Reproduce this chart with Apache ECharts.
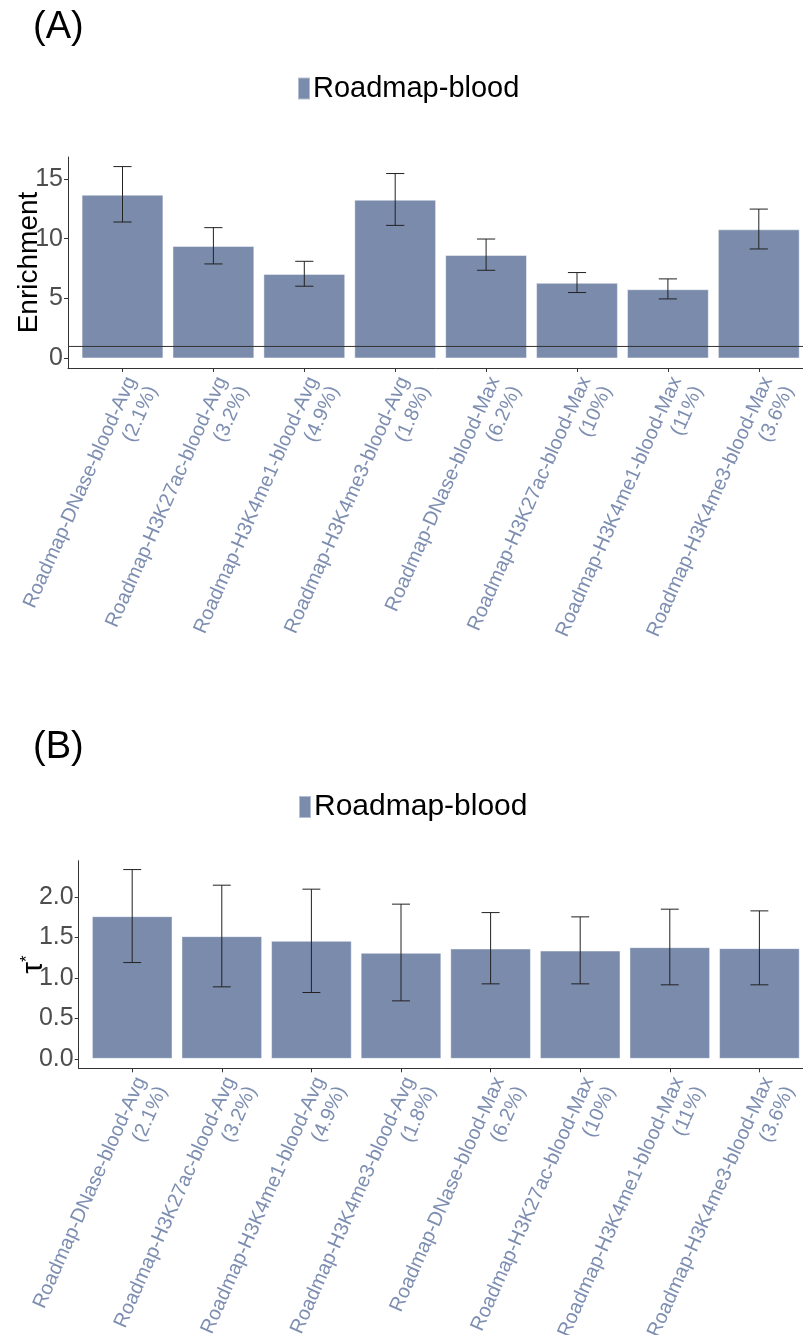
<!DOCTYPE html>
<html>
<head>
<meta charset="utf-8">
<script src="https://cdn.jsdelivr.net/npm/echarts@6/dist/echarts.min.js"></script>
<style>
  html, body { margin: 0; padding: 0; background: #fff; }
  #chart { width: 803px; height: 1335px; }
</style>
</head>
<body>
<div id="chart"></div>
<script>
// annotations (tick labels on x)
const annotations = [
  'Roadmap-DNase-blood-Avg', 'Roadmap-H3K27ac-blood-Avg', 'Roadmap-H3K4me1-blood-Avg', 'Roadmap-H3K4me3-blood-Avg',
  'Roadmap-DNase-blood-Max', 'Roadmap-H3K27ac-blood-Max', 'Roadmap-H3K4me1-blood-Max', 'Roadmap-H3K4me3-blood-Max'
]
const sizes = ['2.1%', '3.2%', '4.9%', '1.8%', '6.2%', '10%', '11%', '3.6%']
const seriesName = 'Roadmap-blood'

// (A) enrichment
const enrichment = [13.67, 9.39, 7.06, 13.25, 8.64, 6.31, 5.78, 10.78]
const enrichmentLow = [11.39, 7.89, 6.03, 11.11, 7.36, 5.50, 4.97, 9.14]
const enrichmentHigh = [16.02, 10.92, 8.11, 15.44, 9.97, 7.17, 6.64, 12.47]
const enrichmentRef = 1

// (B) tau*
const tau = [1.762, 1.515, 1.457, 1.309, 1.362, 1.337, 1.379, 1.367]
const tauLow = [1.189, 0.889, 0.819, 0.716, 0.926, 0.926, 0.914, 0.914]
const tauHigh = [2.337, 2.144, 2.095, 1.910, 1.806, 1.753, 1.848, 1.827]

const labels = annotations.map((a, i) => a + '\n(' + sizes[i] + ')')
const barColor = '#7a8bab'
const font = 'Liberation Sans, Arial, sans-serif'

// panel layout (pixels)
const panels = [
  { axisX: 68, top: 157, bottom: 368, yMin: -0.80, yMax: 16.82, pitch: 90.9, firstCenter: 122.5, interval: 5, digits: 0 },
  { axisX: 78.7, top: 860.7, bottom: 1068.3, yMin: -0.1165, yMax: 2.4465, pitch: 89.6, firstCenter: 132.2, interval: 0.5, digits: 1 }
]

const grid = []
const xAxis = []
const yAxis = []
const series = []

function errorItem(params, api) {
  const x = api.value(0)
  const lo = api.coord([x, api.value(1)])
  const hi = api.coord([x, api.value(2)])
  const half = api.size([1, 0])[0] * 0.1
  const style = { stroke: '#222', lineWidth: 1 }
  return {
    type: 'group',
    children: [
      { type: 'line', shape: { x1: lo[0], y1: lo[1], x2: hi[0], y2: hi[1] }, style },
      { type: 'line', shape: { x1: hi[0] - half, y1: hi[1], x2: hi[0] + half, y2: hi[1] }, style },
      { type: 'line', shape: { x1: lo[0] - half, y1: lo[1], x2: lo[0] + half, y2: lo[1] }, style }
    ]
  }
}

panels.forEach((p, k) => {
  const ppu = (p.bottom - p.top) / (p.yMax - p.yMin)
  const zeroY = p.top + p.yMax * ppu
  const left = p.firstCenter - p.pitch / 2
  const g0 = grid.length
  // frame grid (axis lines)
  grid.push({ left: p.axisX, top: p.top, height: p.bottom - p.top, width: 1000, outerBoundsMode: 'none', containLabel: false })
  // bar grid
  grid.push({ left: left, top: p.top, height: zeroY - p.top, width: p.pitch * 8, outerBoundsMode: 'none', containLabel: false })

  xAxis.push({
    type: 'value', gridIndex: g0, min: 0, max: 1,
    axisLine: { show: true, onZero: false, lineStyle: { color: '#333', width: 1 } },
    axisTick: { show: false }, axisLabel: { show: false }, splitLine: { show: false }
  })
  xAxis.push({
    type: 'category', gridIndex: g0 + 1, data: labels, offset: p.bottom - zeroY,
    axisLine: { show: false, onZero: false },
    axisTick: { show: true, alignWithLabel: true, length: 4, lineStyle: { color: '#333' } },
    axisLabel: {
      interval: 0, rotate: 66, fontSize: 20, lineHeight: 23, color: '#7d8eb1',
      fontFamily: font, margin: 6, verticalAlign: 'top', padding: [-2, 0, 0, 0]
    }
  })
  const nameTau = k === 1
  yAxis.push({
    type: 'value', gridIndex: g0, min: p.yMin, max: p.yMax,
    name: nameTau ? '{t|τ}{s|*}' : 'Enrichment',
    nameLocation: 'middle', nameGap: nameTau ? 30 : 25,
    nameTextStyle: {
      fontSize: 28, color: '#000', fontFamily: font,
      rich: { t: { fontSize: 30, fontFamily: font }, s: { fontSize: 17, fontFamily: font, verticalAlign: 'top' } }
    },
    axisLine: { show: true, onZero: false, lineStyle: { color: '#333', width: 1 } },
    axisTick: { show: false }, axisLabel: { show: false }, splitLine: { show: false }
  })
  yAxis.push({
    type: 'value', gridIndex: g0 + 1, min: 0, max: p.yMax, interval: p.interval,
    offset: left - p.axisX,
    axisLine: { show: false },
    axisTick: { show: true, length: 4, lineStyle: { color: '#333' } },
    axisLabel: {
      fontSize: 25, color: '#4d4d4d', fontFamily: font, margin: 5,
      showMaxLabel: false,
      formatter: v => v.toFixed(p.digits)
    },
    splitLine: { show: false }
  })

  const vals = k === 0 ? enrichment : tau
  const lows = k === 0 ? enrichmentLow : tauLow
  const highs = k === 0 ? enrichmentHigh : tauHigh

  if (k === 0) {
    series.push({
      type: 'line', xAxisIndex: g0, yAxisIndex: g0, silent: true, symbol: 'none',
      data: [[0, enrichmentRef], [1, enrichmentRef]],
      lineStyle: { color: '#333', width: 1 }, z: 5
    })
  }
  series.push({
    name: seriesName, type: 'bar', xAxisIndex: g0 + 1, yAxisIndex: g0 + 1,
    data: vals, barWidth: '90%',
    itemStyle: { color: barColor, borderColor: 'rgba(255,255,255,0.45)', borderWidth: 1 }
  })
  series.push({
    type: 'custom', xAxisIndex: g0 + 1, yAxisIndex: g0 + 1,
    renderItem: errorItem, encode: { x: 0, y: [1, 2] },
    data: vals.map((v, i) => [i, lows[i], highs[i]]), z: 4
  })
})

const chart = echarts.init(document.getElementById('chart'))
chart.setOption({
  animation: false,
  backgroundColor: '#fff',
  textStyle: { fontFamily: font },
  title: [
    { text: '(A)', left: 33, top: 9, padding: 0, textStyle: { fontSize: 38, fontWeight: 'normal', color: '#000', fontFamily: font } },
    { text: '(B)', left: 33, top: 729, padding: 0, textStyle: { fontSize: 38, fontWeight: 'normal', color: '#000', fontFamily: font } }
  ],
  legend: [
    {
      data: [seriesName], left: 297, top: 74, padding: 0, itemWidth: 12, itemHeight: 22, icon: 'rect',
      textStyle: { fontSize: 29, color: '#000', fontFamily: font, padding: [0, 0, 0, -2] }, selectedMode: false
    },
    {
      data: [seriesName], left: 298, top: 792, padding: 0, itemWidth: 12, itemHeight: 22, icon: 'rect',
      textStyle: { fontSize: 30, color: '#000', fontFamily: font, padding: [0, 0, 0, -2] }, selectedMode: false
    }
  ],
  grid,
  xAxis,
  yAxis,
  series
})
</script>
</body>
</html>
